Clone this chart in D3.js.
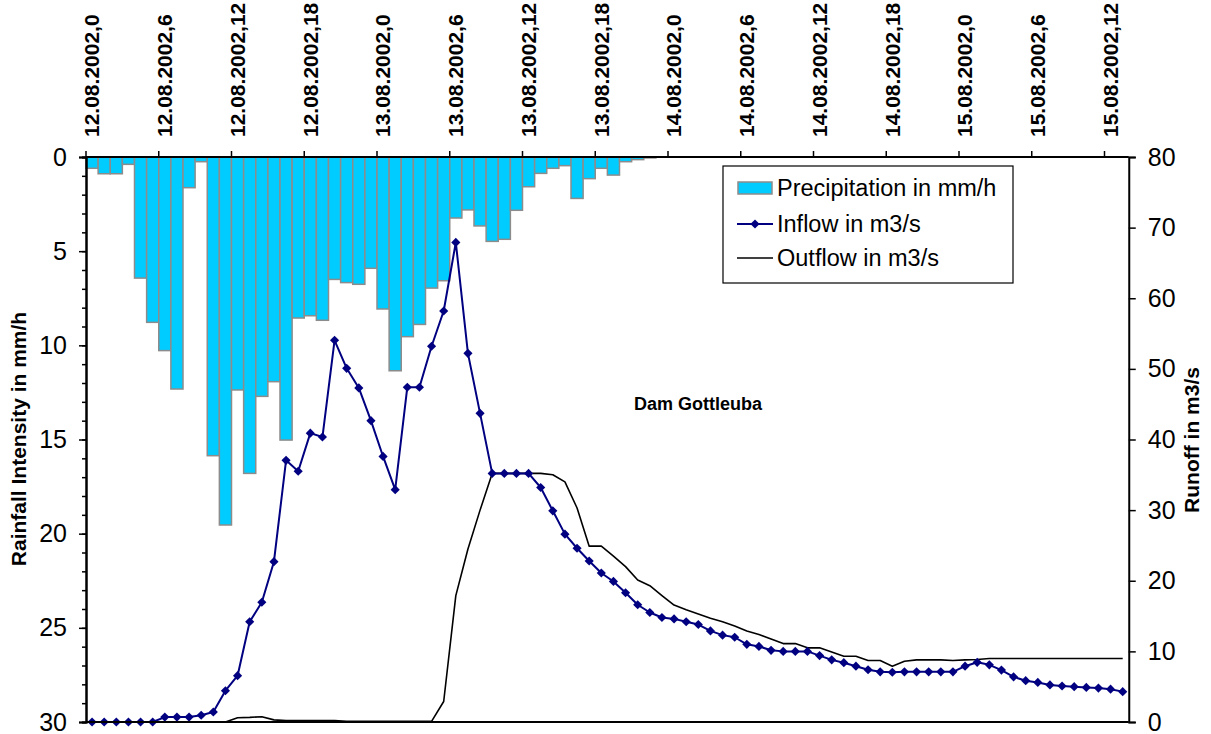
<!DOCTYPE html>
<html>
<head>
<meta charset="utf-8">
<script src="https://cdn.jsdelivr.net/npm/d3@7"></script>
<style>
  html, body { margin: 0; padding: 0; background: #ffffff; }
  svg { display: block; font-family: "Liberation Sans", Arial, sans-serif; }
</style>
</head>
<body>
<svg id="chart" width="1211" height="734"></svg>
<script>
// Hourly series, 12.08.2002 00:00 to 15.08.2002 13:00
const tickLabels = [
  "12.08.2002,0", "12.08.2002,6", "12.08.2002,12", "12.08.2002,18",
  "13.08.2002,0", "13.08.2002,6", "13.08.2002,12", "13.08.2002,18",
  "14.08.2002,0", "14.08.2002,6", "14.08.2002,12", "14.08.2002,18",
  "15.08.2002,0", "15.08.2002,6", "15.08.2002,12"
];

// Precipitation in mm/h
const precipitation = [
  0.6, 0.89, 0.89, 0.39, 6.43, 8.78, 10.28, 12.32, 1.63, 0.25,
  15.86, 19.54, 12.37, 16.8, 12.71, 11.93, 15.03, 8.55, 8.43, 8.67,
  6.5, 6.67, 6.76, 5.91, 8.07, 11.35, 9.54, 8.89, 6.96, 6.57,
  3.24, 2.81, 3.66, 4.48, 4.37, 2.83, 1.58, 0.87, 0.6, 0.46,
  2.2, 1.15, 0.6, 0.96, 0.25, 0.14, 0.05, 0, 0, 0,
  0, 0, 0, 0, 0, 0, 0, 0, 0, 0,
  0, 0, 0, 0, 0, 0, 0, 0, 0, 0,
  0, 0, 0, 0, 0, 0, 0, 0, 0, 0,
  0, 0, 0, 0, 0, 0
];

// Inflow in m3/s
const inflow = [
  0, 0, 0, 0, 0, 0, 0.7, 0.7, 0.7, 0.95,
  1.42, 4.43, 6.56, 14.2, 16.95, 22.7, 37.05, 35.5, 40.9, 40.35,
  54.05, 50.08, 47.3, 42.67, 37.6, 32.9, 47.4, 47.4, 53.2, 58.2,
  67.9, 52.2, 43.7, 35.2, 35.2, 35.2, 35.2, 33.2, 29.9, 26.6,
  24.6, 22.8, 21.1, 19.9, 18.3, 16.6, 15.5, 14.8, 14.6, 14.2,
  13.8, 12.9, 12.3, 12.0, 11.0, 10.7, 10.15, 10.0, 10.0, 10.0,
  9.4, 8.8, 8.4, 7.9, 7.4, 7.1, 7.05, 7.1, 7.1, 7.1,
  7.1, 7.1, 7.9, 8.45, 8.1, 7.35, 6.4, 5.85, 5.6, 5.25,
  5.1, 5.0, 4.9, 4.8, 4.65, 4.3
];

// Outflow in m3/s
const outflow = [
  0, 0, 0, 0, 0, 0, 0, 0, 0, 0,
  0, 0, 0.6, 0.65, 0.75, 0.3, 0.2, 0.2, 0.2, 0.2,
  0.2, 0.1, 0.1, 0.1, 0.1, 0.1, 0.1, 0.1, 0.1, 2.9,
  17.9, 24.5, 30.0, 35.2, 35.2, 35.2, 35.2, 35.2, 35.0, 34.0,
  30.3, 24.9, 24.9, 23.5, 22.0, 20.1, 19.3, 17.9, 16.55, 15.9,
  15.3, 14.7, 14.2, 13.6, 12.9, 12.4, 11.75, 11.1, 11.1, 10.5,
  10.5, 9.9, 9.3, 9.3, 8.7, 8.7, 7.9, 8.6, 8.8, 8.8,
  8.8, 8.7, 8.8, 8.85, 9.0, 9.0, 9.0, 9.0, 9.0, 9.0,
  9.0, 9.0, 9.0, 9.0, 9.0, 9.0
];

const hours = d3.range(precipitation.length);

const plot = { left: 86, right: 1128.75, top: 157, bottom: 722 };
const svg = d3.select("#chart");

const x = d3.scaleBand().domain(hours).range([plot.left, plot.right]).padding(0);
const yRain = d3.scaleLinear().domain([0, 30]).range([plot.top, plot.bottom]);
const yRun = d3.scaleLinear().domain([0, 80]).range([plot.bottom, plot.top]);
const cx = i => x(i) + x.bandwidth() / 2;

// Precipitation bars hang from the top edge
svg.append("g")
  .selectAll("rect")
  .data(precipitation)
  .join("rect")
  .attr("x", (d, i) => x(i))
  .attr("y", yRain(0))
  .attr("width", x.bandwidth())
  .attr("height", d => yRain(d) - yRain(0))
  .attr("fill", "#00ccff")
  .attr("stroke", "#8c8c8c")
  .attr("stroke-width", 1.5);

// Outflow line
svg.append("path")
  .datum(outflow)
  .attr("fill", "none")
  .attr("stroke", "#000000")
  .attr("stroke-width", 1.6)
  .attr("stroke-linejoin", "round")
  .attr("d", d3.line().x((d, i) => cx(i)).y(d => yRun(d)));

// Inflow line with diamond markers
svg.append("path")
  .datum(inflow)
  .attr("fill", "none")
  .attr("stroke", "#000080")
  .attr("stroke-width", 2)
  .attr("stroke-linejoin", "round")
  .attr("d", d3.line().x((d, i) => cx(i)).y(d => yRun(d)));

const diamond = d3.symbol().type(d3.symbolSquare).size(42);
svg.append("g")
  .selectAll("path")
  .data(inflow)
  .join("path")
  .attr("d", diamond)
  .attr("transform", (d, i) => `translate(${cx(i)},${yRun(d)}) rotate(45)`)
  .attr("fill", "#000080");

// Frame
const frame = svg.append("g").attr("stroke", "#000").attr("stroke-width", 2);
frame.append("line").attr("x1", plot.left).attr("x2", plot.right).attr("y1", plot.top).attr("y2", plot.top);
frame.append("line").attr("x1", plot.left).attr("x2", plot.right).attr("y1", plot.bottom).attr("y2", plot.bottom);

// Left axis: rainfall intensity (inverted)
const leftMinor = d3.axisLeft(yRain).tickValues(d3.range(0, 31, 1)).tickSize(4).tickFormat("");
const leftAxis = d3.axisLeft(yRain).tickValues(d3.range(0, 31, 5)).tickSize(7).tickPadding(12);
const gLm = svg.append("g").attr("transform", `translate(${plot.left},0)`).call(leftMinor);
const gL = svg.append("g").attr("transform", `translate(${plot.left},0)`).call(leftAxis);

// Right axis: runoff
const rightAxis = d3.axisRight(yRun).tickValues(d3.range(0, 81, 10)).tickSize(7).tickPadding(12);
const gR = svg.append("g").attr("transform", `translate(${plot.right},0)`).call(rightAxis);

[gLm, gL, gR].forEach(g => {
  g.select(".domain").attr("stroke", "#000").attr("stroke-width", 2);
  g.selectAll(".tick line").attr("stroke", "#000").attr("stroke-width", 1.5);
  g.selectAll("text").attr("font-size", 25).attr("fill", "#000")
    .attr("font-family", "'Liberation Sans', Arial, sans-serif");
});

// Top time axis: ticks at category boundaries, labels at category centres
const labelIdx = tickLabels.map((t, k) => k * 6);
svg.append("g")
  .selectAll("line")
  .data(labelIdx)
  .join("line")
  .attr("x1", i => x(i)).attr("x2", i => x(i))
  .attr("y1", plot.top - 6).attr("y2", plot.top)
  .attr("stroke", "#000").attr("stroke-width", 1.5);

svg.append("g")
  .selectAll("text")
  .data(tickLabels)
  .join("text")
  .attr("transform", (t, k) => `translate(${cx(labelIdx[k])},137) rotate(-90)`)
  .attr("dy", "0.35em")
  .attr("text-anchor", "start")
  .attr("font-size", 21)
  .attr("font-weight", "bold")
  .text(t => t);

// Axis titles
svg.append("text")
  .attr("transform", "translate(19,439) rotate(-90)")
  .attr("dy", "0.35em")
  .attr("text-anchor", "middle")
  .attr("font-size", 21)
  .attr("font-weight", "bold")
  .text("Rainfall Intensity in mm/h");

svg.append("text")
  .attr("transform", "translate(1192,440) rotate(-90)")
  .attr("dy", "0.35em")
  .attr("text-anchor", "middle")
  .attr("font-size", 21)
  .attr("font-weight", "bold")
  .text("Runoff in m3/s");

// Chart label
svg.append("text")
  .attr("x", 698).attr("y", 404)
  .attr("dy", "0.35em")
  .attr("text-anchor", "middle")
  .attr("font-size", 18)
  .attr("font-weight", "bold")
  .text("Dam Gottleuba");

// Legend
const legend = svg.append("g");
legend.append("rect")
  .attr("x", 723).attr("y", 166).attr("width", 290).attr("height", 117)
  .attr("fill", "#fff").attr("stroke", "#000").attr("stroke-width", 1.2);

legend.append("rect")
  .attr("x", 738).attr("y", 182).attr("width", 34).attr("height", 12)
  .attr("fill", "#00ccff").attr("stroke", "#8c8c8c").attr("stroke-width", 1.5);

legend.append("line")
  .attr("x1", 737).attr("x2", 773).attr("y1", 224).attr("y2", 224)
  .attr("stroke", "#000080").attr("stroke-width", 2);
legend.append("path")
  .attr("d", diamond)
  .attr("transform", "translate(755,224) rotate(45)")
  .attr("fill", "#000080");

legend.append("line")
  .attr("x1", 737).attr("x2", 773).attr("y1", 258).attr("y2", 258)
  .attr("stroke", "#000").attr("stroke-width", 1.6);

const legendItems = ["Precipitation in mm/h", "Inflow in m3/s", "Outflow in m3/s"];
legend.selectAll("text.item")
  .data(legendItems)
  .join("text")
  .attr("class", "item")
  .attr("x", 777)
  .attr("y", (d, k) => [188, 224, 258][k])
  .attr("dy", "0.35em")
  .attr("font-size", 23.5)
  .text(d => d);
</script>
</body>
</html>
